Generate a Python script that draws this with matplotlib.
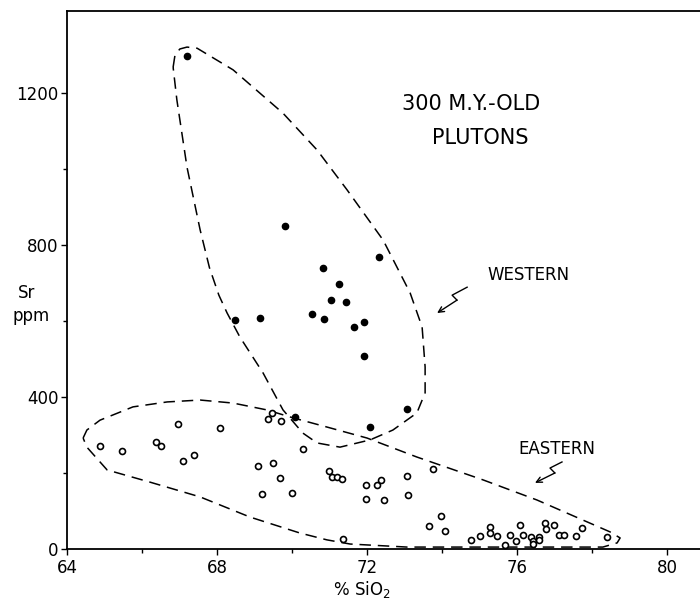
import numpy as np
import matplotlib
matplotlib.use("Agg")
import matplotlib.pyplot as plt

# western plutons (filled dots): SiO2 %, Sr ppm
west_sio2 = [67.2, 69.81, 72.32, 70.82, 71.25, 71.04, 71.43, 68.48, 69.14, 70.54,
             70.85, 71.66, 71.92, 71.93, 73.06, 70.08, 72.08]
west_sr = [1297, 850, 768, 740, 697, 655, 651, 602, 607, 618,
           604, 584, 597, 507, 369, 348, 322]

# eastern plutons (open circles)
east_sio2 = [64.87, 65.46, 66.38, 66.51, 66.96, 67.09, 67.39, 68.08, 69.48, 69.36,
             69.71, 70.29, 69.1, 69.5, 69.68, 69.19, 69.99, 70.99, 71.07, 71.21,
             71.34, 71.37, 73.77, 73.06, 73.09, 71.98, 72.26, 72.37, 71.98, 72.45,
             73.65, 73.97, 74.09, 74.77, 75.02, 75.28, 75.28, 75.47, 75.67, 75.82,
             75.97, 76.09, 76.16, 76.37, 76.44, 76.43, 76.59, 76.6, 76.75, 76.77,
             76.98, 77.13, 77.26, 77.58, 77.73, 78.4]
east_sr = [270, 258, 282, 271, 328, 232, 248, 318, 358, 341,
           337, 264, 218, 226, 188, 146, 147, 205, 190, 190,
           184, 27, 210, 192, 141, 168, 168, 181, 132, 130,
           61, 88, 47, 23, 34, 57, 43, 34, 11, 37,
           20, 62, 37, 32, 22, 13, 32, 23, 68, 53,
           62, 36, 36, 34, 54, 32]

# hand-drawn field outlines
west_env_x = [66.83, 66.88, 67.01, 67.2, 67.47, 68.43, 69.76, 70.67, 71.47, 72.43,
              73.15, 73.47, 73.55, 73.55, 73.33, 72.69, 72.08, 71.28, 70.67, 70.29,
              69.76, 69.23, 68.61, 68.27, 68.05, 67.8, 67.55, 67.2, 66.93, 66.83]
west_env_y = [1268, 1300, 1316, 1321, 1318, 1261, 1147, 1050, 945, 813,
              674, 584, 479, 411, 358, 313, 287, 268, 279, 305,
              366, 463, 558, 621, 668, 740, 840, 1005, 1182, 1268]
east_env_x = [64.43, 64.53, 64.88, 65.76, 66.67, 67.55, 68.43, 69.33, 70.03, 70.93,
              72.0, 73.33, 75.09, 76.53, 77.76, 78.48, 78.75, 78.67, 78.29, 75.55,
              73.07, 71.55, 70.93, 70.21, 68.88, 67.55, 66.21, 65.07, 64.53, 64.43]
east_env_y = [292, 313, 339, 374, 387, 392, 384, 366, 345, 321,
              292, 242, 182, 129, 76, 45, 29, 16, 5, 5,
              5, 13, 24, 42, 84, 137, 176, 208, 268, 292]

# squiggle pointers
west_sq_x = [74.67, 74.27, 74.4, 73.87]
west_sq_y = [689, 668, 655, 621]
east_sq_x = [77.2, 76.88, 77.01, 76.48]
east_sq_y = [229, 213, 200, 174]

fig = plt.figure(figsize=(7, 6.07), dpi=100)
ax = fig.add_axes([0.0957, 0.0956, 0.9043, 0.8863])

ax.plot(west_env_x, west_env_y, color="black", lw=1.1, dashes=(7.5, 4.5))
ax.plot(east_env_x, east_env_y, color="black", lw=1.1, dashes=(7.5, 4.5))

ax.plot(west_sio2, west_sr, "o", color="black", markersize=4.5)
ax.plot(east_sio2, east_sr, "o", mfc="white", mec="black", mew=1.2, markersize=4.3)

for sx, sy in [(west_sq_x, west_sq_y), (east_sq_x, east_sq_y)]:
    ax.plot(sx[:3], sy[:3], color="black", lw=1.0)
    ax.annotate("", xy=(sx[3], sy[3]), xytext=(sx[2], sy[2]),
                arrowprops=dict(arrowstyle="->", lw=1.0, color="black",
                                shrinkA=0, shrinkB=0, mutation_scale=10))

ax.text(74.79, 1170, "300 M.Y.-OLD", fontsize=15, ha="center", va="center")
ax.text(75.01, 1083, "PLUTONS", fontsize=15, ha="center", va="center")
ax.text(76.3, 722, "WESTERN", fontsize=12, ha="center", va="center")
ax.text(77.07, 262, "EASTERN", fontsize=12, ha="center", va="center")

ax.set_xlim(64, 80.88)
ax.set_ylim(0, 1416)
ax.set_xticks([64, 68, 72, 76, 80])
ax.set_xticks([66, 70, 74, 78], minor=True)
ax.set_yticks([0, 400, 800, 1200])
ax.set_yticks([200, 600, 1000], minor=True)
ax.tick_params(labelsize=12, length=4, width=1.0, direction="out")
ax.tick_params(which="minor", length=3, width=1.0)
ax.tick_params(axis="y", pad=2)
ax.tick_params(axis="x", pad=3)

for s in ["left", "bottom", "top"]:
    ax.spines[s].set_linewidth(1.3)
ax.spines["right"].set_visible(False)

fig.text(27 / 700, 1 - 293 / 607, "Sr", fontsize=12, ha="center", va="center")
fig.text(31 / 700, 1 - 316 / 607, "ppm", fontsize=12, ha="center", va="center")
fig.text(362 / 700, 1 - 590 / 607, "% SiO$_2$", fontsize=12, ha="center", va="center")

fig.savefig("out.png", dpi=100)
